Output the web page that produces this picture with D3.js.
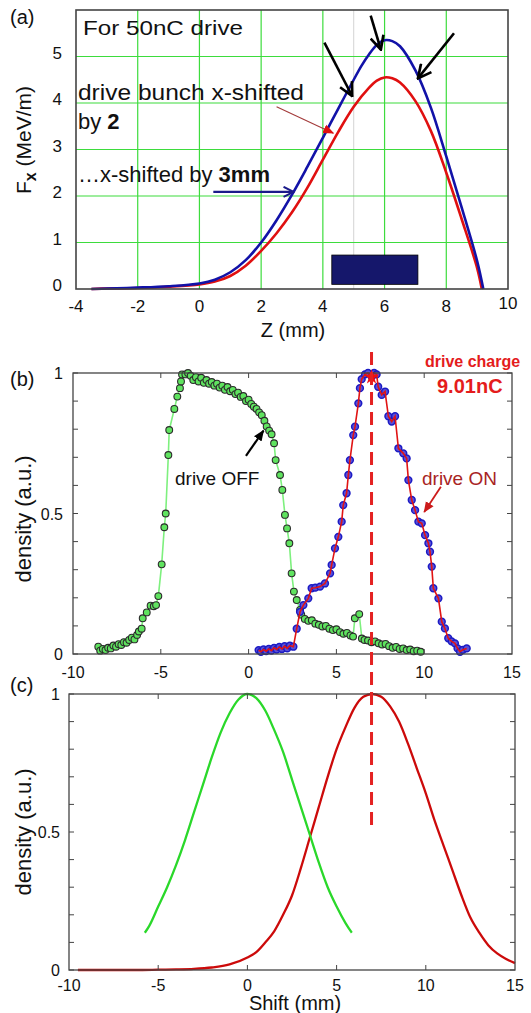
<!DOCTYPE html>
<meta charset="utf-8">
<style>
body { margin: 0; background: #fff; }
text { font-family: "Liberation Sans", Arial, sans-serif; fill: #111; }
.frame { fill: none; stroke: #444; stroke-width: 1.3px; }
</style>
<svg width="531" height="1013"></svg>
<script src="https://d3js.org/d3.v7.min.js"></script>
<script>

// ---- panel (a): transverse force vs z ----
var zA = [-3.5, -3, -2, -1, 0, 0.5, 1, 1.5, 2, 2.5, 3, 3.5, 4, 4.5, 5, 5.25, 5.5, 5.75, 6, 6.25, 6.5, 7, 7.5, 8, 8.5, 9, 9.2];
var fxBlue = [0, 0.01, 0.03, 0.06, 0.12, 0.2, 0.36, 0.62, 1.0, 1.48, 2.03, 2.63, 3.25, 3.88, 4.5, 4.8, 5.05, 5.25, 5.35, 5.33, 5.22, 4.7, 3.9, 2.85, 1.75, 0.6, 0];
var zRed = [-3.5, -3, -2, -1, 0, 0.5, 1, 1.5, 2, 2.5, 3, 3.5, 4, 4.5, 5, 5.5, 5.75, 6, 6.25, 6.5, 7, 7.5, 8, 8.5, 9, 9.15];
var fxRed = [0, 0.01, 0.02, 0.05, 0.1, 0.16, 0.28, 0.5, 0.82, 1.2, 1.65, 2.18, 2.78, 3.38, 3.92, 4.33, 4.48, 4.55, 4.53, 4.44, 4.04, 3.4, 2.5, 1.5, 0.45, 0];
var gridZ = [-2, 0, 2, 4, 6, 8];
var gridF = [1, 2, 3, 4, 5];
var ticksZ = [-4, -2, 0, 2, 4, 6, 8, 10];
var ticksF = [0, 1, 2, 3, 4, 5];
var bunchBox = {z0: 4.29, z1: 7.08, f0: 0.1, f1: 0.73};

// ---- panel (b): measured densities ----
var offS = [-8.56, -8.45, -8.3, -8.15, -8.0, -7.85, -7.7, -7.55, -7.4, -7.25, -7.1, -6.95, -6.8, -6.65, -6.5, -6.35, -6.25,
  -6.09, -6.03, -5.8, -5.58, -5.4, -5.27, -5.14, -4.95, -4.8, -4.72, -4.57, -4.52, -4.23, -4.06, -3.91, -3.85, -3.79,
  -3.6, -3.45, -3.3, -3.15, -3.0, -2.85, -2.7, -2.55, -2.4, -2.25, -2.1, -1.95, -1.8, -1.65, -1.5, -1.35, -1.2, -1.05,
  -0.9, -0.75, -0.6, -0.45, -0.3, -0.15, 0.0, 0.15, 0.3, 0.45, 0.6, 0.75, 0.9, 1.03, 1.17, 1.31, 1.45, 1.54, 1.79, 1.92,
  2.07, 2.19, 2.32, 2.45, 2.58, 2.74, 2.93, 3.0, 3.2, 3.4, 3.6, 3.8, 4.0, 4.2, 4.4, 4.6, 4.8, 5.0, 5.2, 5.4, 5.6, 5.8,
  5.95, 6.05, 6.3, 6.45, 6.6, 6.8, 7.0, 7.2, 7.4, 7.6, 7.8, 8.0, 8.2, 8.4, 8.6, 8.8, 9.0, 9.2, 9.4, 9.6, 9.8];
var offD = [0.026, 0.012, 0.018, 0.014, 0.022, 0.02, 0.03, 0.026, 0.035, 0.032, 0.042, 0.04, 0.05, 0.058, 0.052, 0.068, 0.08,
  0.09, 0.127, 0.148, 0.172, 0.17, 0.174, 0.206, 0.319, 0.451, 0.5, 0.708, 0.797, 0.872, 0.916, 0.946, 0.97, 0.995,
  0.995, 1.0, 0.99, 0.975, 0.985, 0.97, 0.983, 0.965, 0.975, 0.962, 0.968, 0.955, 0.962, 0.948, 0.955, 0.94, 0.95, 0.935,
  0.94, 0.925, 0.93, 0.915, 0.918, 0.9, 0.905, 0.89, 0.88, 0.872, 0.86, 0.85, 0.83, 0.81, 0.795, 0.782, 0.75, 0.69, 0.637, 0.584,
  0.495, 0.447, 0.394, 0.287, 0.222, 0.192, 0.157, 0.14, 0.125, 0.118, 0.12, 0.108, 0.104, 0.098, 0.1, 0.09, 0.085, 0.088, 0.078, 0.072, 0.075, 0.066,
  0.062, 0.127, 0.142, 0.055, 0.05, 0.048, 0.042, 0.045, 0.038, 0.034, 0.036, 0.028, 0.022, 0.025, 0.018, 0.02, 0.014, 0.016, 0.01, 0.012, 0.008];

var onS = [0.57, 0.7, 0.85, 1.0, 1.15, 1.3, 1.45, 1.6, 1.75, 1.9, 2.05, 2.2, 2.35, 2.55, 2.74, 2.93, 3.12, 3.4, 3.59, 3.8,
  4.07, 4.35, 4.64, 4.73, 4.92, 5.11, 5.3, 5.39, 5.58, 5.68, 5.77, 5.96, 6.06, 6.25, 6.34, 6.44, 6.63, 6.8, 7.01, 7.15,
  7.29, 7.38, 7.58, 7.77, 7.96, 8.15, 8.34, 8.53, 8.81, 9.0, 9.1, 9.29, 9.48, 9.67, 9.86, 10.05, 10.24, 10.33, 10.43,
  10.52, 10.81, 11.0, 11.18, 11.37, 11.56, 11.75, 11.9, 12.04, 12.2, 12.42];
var onD = [0.014, 0.008, 0.016, 0.01, 0.018, 0.012, 0.022, 0.016, 0.025, 0.018, 0.028, 0.02, 0.03, 0.026, 0.09, 0.15, 0.174, 0.198, 0.234, 0.236,
  0.24, 0.251, 0.287, 0.317, 0.376, 0.417, 0.471, 0.53, 0.572, 0.637, 0.69, 0.779, 0.809, 0.892, 0.946, 0.978, 0.995, 1.0, 0.987, 1.0,
  0.995, 0.951, 0.922, 0.934, 0.846, 0.827, 0.846, 0.732, 0.714, 0.696, 0.619, 0.548, 0.512, 0.471, 0.465, 0.423, 0.394, 0.364, 0.311,
  0.234, 0.198, 0.115, 0.091, 0.056, 0.045, 0.038, 0.02, 0.008, 0.015, 0.02];

// ---- panel (c): fitted profiles ----
var fitOffS = [-5.75, -5.5, -5, -4.5, -4, -3.5, -3, -2.5, -2, -1.5, -1, -0.5, 0, 0.5, 1, 1.5, 2, 2.5, 3, 3.5, 4, 4.5, 5, 5.5, 5.85];
var fitOffD = [0.135, 0.16, 0.23, 0.3, 0.38, 0.47, 0.57, 0.67, 0.77, 0.86, 0.93, 0.98, 1.0, 0.985, 0.94, 0.87, 0.79, 0.69, 0.59, 0.49, 0.39, 0.3, 0.23, 0.17, 0.135];
var fitOnS = [-9.5, -8, -6, -5, -4, -3, -2, -1, 0, 0.5, 1, 1.5, 2, 2.5, 3, 3.5, 4, 4.5, 5, 5.5, 6, 6.5, 7, 7.5, 8, 8.5, 9, 9.5, 10, 10.5, 11, 11.5, 12, 12.5, 13, 13.5, 14, 14.5, 15];
var fitOnD = [0, 0, 0, 0.001, 0.002, 0.004, 0.009, 0.02, 0.045, 0.065, 0.1, 0.14, 0.2, 0.27, 0.37, 0.48, 0.59, 0.7, 0.8, 0.88, 0.95, 0.99, 1.0, 0.99, 0.955, 0.9, 0.82, 0.73, 0.64, 0.54, 0.45, 0.36, 0.27, 0.19, 0.135, 0.09, 0.06, 0.04, 0.025];

var ticksS = [-10, -5, 0, 5, 10, 15];
var minorD = [0, 0.1, 0.2, 0.3, 0.4, 0.5, 0.6, 0.7, 0.8, 0.9, 1];
var labelD = [0, 0.5, 1];
var driveCenter = 7.0;

var svg = d3.select("svg");

var defs = svg.append("defs");
function vHead(id, color, w) {
  defs.append("marker").attr("id", id)
    .attr("markerUnits", "userSpaceOnUse")
    .attr("viewBox", "0 0 12 12").attr("refX", 11).attr("refY", 6)
    .attr("markerWidth", w).attr("markerHeight", w).attr("orient", "auto")
    .append("path").attr("d", "M1,1 L11,6 L1,11")
    .attr("fill", "none").attr("stroke", color).attr("stroke-width", 2);
}
function solidHead(id, color, w) {
  defs.append("marker").attr("id", id)
    .attr("markerUnits", "userSpaceOnUse")
    .attr("viewBox", "0 0 12 12").attr("refX", 11).attr("refY", 6)
    .attr("markerWidth", w).attr("markerHeight", w).attr("orient", "auto")
    .append("path").attr("d", "M0,1 L12,6 L0,11 Z").attr("fill", color);
}
vHead("hBlack", "#000", 16);
vHead("hNavy", "#1a1a8a", 12);
solidHead("hRed", "#e01010", 11);
solidHead("hBlackS", "#000", 11);
solidHead("hDarkRed", "#cc1b1b", 11);

function arrow(g, x1, y1, x2, y2, color, width, head) {
  g.append("line").attr("x1", x1).attr("y1", y1).attr("x2", x2).attr("y2", y2)
    .attr("stroke", color).attr("stroke-width", width)
    .attr("marker-end", "url(#" + head + ")");
}

function zipPts(xs, ys) { return xs.map(function(x, i) { return [x, ys[i]]; }); }

// =========== (a) ===========
var xA = d3.scaleLinear().domain([-4, 10]).range([76, 508]);
var yA = d3.scaleLinear().domain([0, 6]).range([289, 10]);
var gA = svg.append("g");

gA.append("line").attr("x1", xA(5)).attr("x2", xA(5)).attr("y1", yA(6)).attr("y2", yA(0))
  .attr("stroke", "#d4d4d4").attr("stroke-width", 1);
gA.selectAll(".gz").data(gridZ).enter().append("line")
  .attr("x1", function(d) { return xA(d); }).attr("x2", function(d) { return xA(d); })
  .attr("y1", yA(6)).attr("y2", yA(0))
  .attr("stroke", "#3ddc3d").attr("stroke-width", 1.2);
gA.selectAll(".gf").data(gridF).enter().append("line")
  .attr("x1", xA(-4)).attr("x2", xA(10))
  .attr("y1", function(d) { return yA(d); }).attr("y2", function(d) { return yA(d); })
  .attr("stroke", "#3ddc3d").attr("stroke-width", 1.2);

gA.append("rect")
  .attr("x", xA(bunchBox.z0)).attr("width", xA(bunchBox.z1) - xA(bunchBox.z0))
  .attr("y", yA(bunchBox.f1)).attr("height", yA(bunchBox.f0) - yA(bunchBox.f1))
  .attr("fill", "#15176b").attr("stroke", "#000").attr("stroke-width", 0.8);

var lineA = d3.line().x(function(d) { return xA(d[0]); }).y(function(d) { return yA(d[1]); })
  .curve(d3.curveCatmullRom.alpha(0.5));
gA.append("path").datum(zipPts(zRed, fxRed)).attr("d", lineA)
  .attr("fill", "none").attr("stroke", "#e01010").attr("stroke-width", 2.6);
gA.append("path").datum(zipPts(zA, fxBlue)).attr("d", lineA)
  .attr("fill", "none").attr("stroke", "#1212a8").attr("stroke-width", 2.6);

gA.append("rect").attr("class", "frame")
  .attr("x", xA(-4)).attr("y", yA(6)).attr("width", xA(10) - xA(-4)).attr("height", yA(0) - yA(6))
  .style("stroke-width", "1.6px");

gA.selectAll(".tz").data(ticksZ).enter().append("text")
  .attr("x", function(d) { return xA(d); })
  .attr("y", function(d) { return d === 10 ? 309 : 312; })
  .attr("text-anchor", "middle").attr("font-size", 17)
  .text(function(d) { return d; });
gA.selectAll(".tf").data(ticksF).enter().append("text")
  .attr("x", 62).attr("y", function(d) { return yA(d) + 2; })
  .attr("text-anchor", "end").attr("font-size", 17)
  .text(function(d) { return d; });

svg.append("text").attr("x", 10).attr("y", 24).attr("font-size", 20).text("(a)");
var fLab = svg.append("text").attr("transform", "translate(31,140) rotate(-90)")
  .attr("text-anchor", "middle").attr("font-size", 21);
fLab.append("tspan").text("F");
fLab.append("tspan").attr("font-weight", "bold").attr("font-size", 16).attr("dy", 5).text("x");
fLab.append("tspan").attr("dy", -5).text(" (MeV/m)");
svg.append("text").attr("x", 293).attr("y", 337).attr("text-anchor", "middle").attr("font-size", 20).text("Z (mm)");

svg.append("text").attr("x", 83).attr("y", 35).attr("font-size", 21)
  .attr("textLength", 160).attr("lengthAdjust", "spacingAndGlyphs").text("For 50nC drive");
svg.append("text").attr("x", 78).attr("y", 100).attr("font-size", 22)
  .attr("textLength", 226).attr("lengthAdjust", "spacingAndGlyphs").text("drive bunch x-shifted");
var by2 = svg.append("text").attr("x", 78).attr("y", 129).attr("font-size", 22);
by2.append("tspan").text("by ");
by2.append("tspan").attr("font-weight", "bold").text("2");
var by3 = svg.append("text").attr("x", 78).attr("y", 182).attr("font-size", 22);
by3.append("tspan").text("\u2026x-shifted by ");
by3.append("tspan").attr("font-weight", "bold").text("3mm");

arrow(svg, xA(4.05), yA(5.3), xA(4.95), yA(4.15), "#000", 2.6, "hBlack");
arrow(svg, xA(5.55), yA(5.88), xA(5.88), yA(5.15), "#000", 2.6, "hBlack");
arrow(svg, xA(8.25), yA(5.5), xA(7.08), yA(4.53), "#000", 2.6, "hBlack");
arrow(svg, xA(2.5), yA(3.92), xA(4.34), yA(3.35), "#a33a3a", 1.1, "hRed");
arrow(svg, xA(0.45), yA(2.09), xA(3.05), yA(2.09), "#1a1a8a", 2.2, "hNavy");

// =========== (b) ===========
var xB = d3.scaleLinear().domain([-10, 15]).range([73, 512]);
var yB = d3.scaleLinear().domain([0, 1]).range([654, 373]);
var gB = svg.append("g");

function boxTicks(g, xs, ys, xTicks, yTicks) {
  var x0 = xs.range()[0], x1 = xs.range()[1], y0 = ys.range()[0], y1 = ys.range()[1];
  g.selectAll(".ly").data(yTicks).enter().append("line")
    .attr("x1", x0).attr("x2", x0 + 5)
    .attr("y1", function(d) { return ys(d); }).attr("y2", function(d) { return ys(d); })
    .attr("stroke", "#444").attr("stroke-width", 1);
  g.selectAll(".ry").data(yTicks).enter().append("line")
    .attr("x1", x1).attr("x2", x1 - 5)
    .attr("y1", function(d) { return ys(d); }).attr("y2", function(d) { return ys(d); })
    .attr("stroke", "#444").attr("stroke-width", 1);
  g.selectAll(".tx").data(xTicks).enter().append("line")
    .attr("x1", function(d) { return xs(d); }).attr("x2", function(d) { return xs(d); })
    .attr("y1", y1).attr("y2", y1 + 5).attr("stroke", "#444").attr("stroke-width", 1);
  g.selectAll(".bx").data(xTicks).enter().append("line")
    .attr("x1", function(d) { return xs(d); }).attr("x2", function(d) { return xs(d); })
    .attr("y1", y0).attr("y2", y0 - 5).attr("stroke", "#444").attr("stroke-width", 1);
  g.append("rect").attr("class", "frame")
    .attr("x", x0).attr("y", y1).attr("width", x1 - x0).attr("height", y0 - y1);
}

var lineB = d3.line().x(function(d) { return xB(d[0]); }).y(function(d) { return yB(d[1]); });

var offPts = zipPts(offS, offD);
gB.append("path").datum(offPts).attr("d", lineB)
  .attr("fill", "none").attr("stroke", "#7ef07e").attr("stroke-width", 1.6);
gB.selectAll(".mOff").data(offPts).enter().append("circle")
  .attr("cx", function(d) { return xB(d[0]); }).attr("cy", function(d) { return yB(d[1]); })
  .attr("r", 3.4).attr("fill", "#5fe35f").attr("stroke", "#2b2b2b").attr("stroke-width", 1.1);

var onPts = zipPts(onS, onD);
gB.selectAll(".mOn").data(onPts).enter().append("circle")
  .attr("cx", function(d) { return xB(d[0]); }).attr("cy", function(d) { return yB(d[1]); })
  .attr("r", 3.4).attr("fill", "#5a4fd8").attr("stroke", "#1b1bc4").attr("stroke-width", 1.5);
gB.append("path").datum(onPts).attr("d", lineB)
  .attr("fill", "none").attr("stroke", "#e01414").attr("stroke-width", 1.6);
gB.append("path").attr("d", d3.symbol(d3.symbolStar, 70)())
  .attr("transform", "translate(" + xB(driveCenter) + "," + yB(0.985) + ")").attr("fill", "#f01010");

boxTicks(gB, xB, yB, [-5, 0, 5, 10], minorD);

gB.selectAll(".lx").data(ticksS).enter().append("text")
  .attr("x", function(d) { return xB(d); }).attr("y", 678)
  .attr("text-anchor", "middle").attr("font-size", 16).text(function(d) { return d; });
gB.selectAll(".lyb").data(labelD).enter().append("text")
  .attr("x", 63).attr("y", function(d) { return yB(d) + 6; })
  .attr("text-anchor", "end").attr("font-size", 16).text(function(d) { return d; });

svg.append("text").attr("x", 10).attr("y", 386).attr("font-size", 20).text("(b)");
svg.append("text").attr("transform", "translate(31,519) rotate(-90)")
  .attr("text-anchor", "middle").attr("font-size", 22).text("density (a.u.)");
svg.append("text").attr("x", 175).attr("y", 485).attr("font-size", 19).text("drive OFF");
svg.append("text").attr("x", 422).attr("y", 485).attr("font-size", 19)
  .style("fill", "#a82424").text("drive ON");
svg.append("text").attr("x", 425).attr("y", 367).attr("font-size", 16).attr("font-weight", "bold")
  .style("fill", "#e41c1c").text("drive charge");
svg.append("text").attr("x", 437).attr("y", 393).attr("font-size", 20).attr("font-weight", "bold")
  .style("fill", "#e41c1c").text("9.01nC");
arrow(svg, xB(-0.15), yB(0.705), xB(0.85), yB(0.795), "#000", 2.2, "hBlackS");
arrow(svg, xB(10.95), yB(0.595), xB(10.0), yB(0.505), "#cc1b1b", 1.8, "hDarkRed");

// =========== (c) ===========
var xC = d3.scaleLinear().domain([-10, 15]).range([69, 515]);
var yC = d3.scaleLinear().domain([0, 1]).range([970, 694]);
var gC = svg.append("g");
var lineC = d3.line().x(function(d) { return xC(d[0]); }).y(function(d) { return yC(d[1]); })
  .curve(d3.curveMonotoneX);
gC.append("path").datum(zipPts(fitOnS, fitOnD)).attr("d", lineC)
  .attr("fill", "none").attr("stroke", "#cc0a0a").attr("stroke-width", 2.3);
gC.append("path").datum(zipPts(fitOffS, fitOffD)).attr("d", lineC)
  .attr("fill", "none").attr("stroke", "#2ad82a").attr("stroke-width", 2.3);

boxTicks(gC, xC, yC, [-5, 0, 5, 10], minorD);

gC.selectAll(".lx").data(ticksS).enter().append("text")
  .attr("x", function(d) { return xC(d); }).attr("y", 991)
  .attr("text-anchor", "middle").attr("font-size", 16).text(function(d) { return d; });
gC.selectAll(".lyc").data(labelD).enter().append("text")
  .attr("x", 60).attr("y", function(d) { return yC(d) + 6; })
  .attr("text-anchor", "end").attr("font-size", 16).text(function(d) { return d; });

svg.append("text").attr("x", 10).attr("y", 692).attr("font-size", 20).text("(c)");
svg.append("text").attr("transform", "translate(31,832) rotate(-90)")
  .attr("text-anchor", "middle").attr("font-size", 22).text("density (a.u.)");
svg.append("text").attr("x", 295).attr("y", 1010).attr("text-anchor", "middle").attr("font-size", 20).text("Shift (mm)");

// dashed marker through (b) and (c) at the drive centre
svg.append("line")
  .attr("x1", xB(driveCenter)).attr("x2", xB(driveCenter))
  .attr("y1", 352).attr("y2", yC(0.5) - 5)
  .attr("stroke", "#e42222").attr("stroke-width", 3).attr("stroke-dasharray", "13,7");

</script>
